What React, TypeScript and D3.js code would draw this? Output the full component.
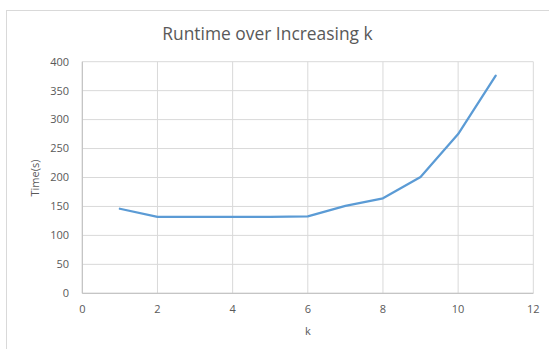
import React from "react";
import * as d3 from "d3";

const ks = [1, 2, 3, 4, 5, 6, 7, 8, 9, 10, 11];
const times = [146, 132, 132, 132, 132, 133, 151, 164, 201, 275, 376];
const xTicks = [0, 2, 4, 6, 8, 10, 12];
const yTicks = [0, 50, 100, 150, 200, 250, 300, 350, 400];
const title = "Runtime over Increasing k";
const xLabel = "k";
const yLabel = "Time(s)";

export default function App() {
  const W = 549, H = 349;
  const x = d3.scaleLinear().domain([0, 12]).range([82.3, 533.3]);
  const y = d3.scaleLinear().domain([0, 400]).range([293.3, 61.7]);
  const line = d3.line<number>().x((_, i) => x(ks[i])).y((d) => y(d));
  const font = "'Open Sans', sans-serif";
  const txt = "#595959";
  return (
    <svg width={W} height={H} style={{ position: "absolute", left: 0, top: 0 }}>
      <rect x={0} y={0} width={W} height={H} fill="#fff" />
      <rect x={6.5} y={10.5} width={W} height={H} fill="#fff" stroke="#d9d9d9" strokeWidth={1} />
      <text x={267.5} y={40} textAnchor="middle" fontFamily={font} fontSize={17.4} fill={txt}>{title}</text>
      {yTicks.map((t) => (
        <line key={"gy" + t} x1={x(0)} x2={x(12)} y1={y(t)} y2={y(t)} stroke="#d9d9d9" strokeWidth={1} />
      ))}
      {xTicks.map((t) => (
        <line key={"gx" + t} x1={x(t)} x2={x(t)} y1={y(0)} y2={y(400)} stroke="#d9d9d9" strokeWidth={1} />
      ))}
      <line x1={x(0)} x2={x(12)} y1={y(0)} y2={y(0)} stroke="#bfbfbf" strokeWidth={1} />
      <line x1={x(0)} x2={x(0)} y1={y(0)} y2={y(400)} stroke="#bfbfbf" strokeWidth={1} />
      {yTicks.map((t) => (
        <text key={"ly" + t} x={69} y={y(t)} dy="0.35em" textAnchor="end" fontFamily={font} fontSize={11} fill={txt}>{t}</text>
      ))}
      {xTicks.map((t) => (
        <text key={"lx" + t} x={x(t)} y={309} dy="0.35em" textAnchor="middle" fontFamily={font} fontSize={11} fill={txt}>{t}</text>
      ))}
      <text x={308} y={331} dy="0.35em" textAnchor="middle" fontFamily={font} fontSize={11} fill={txt}>{xLabel}</text>
      <text transform={`translate(35,178) rotate(-90)`} dy="0.35em" textAnchor="middle" fontFamily={font} fontSize={11} fill={txt}>{yLabel}</text>
      <path d={line(times) || ""} fill="none" stroke="#5b9bd5" strokeWidth={2.25} strokeLinejoin="round" strokeLinecap="round" />
    </svg>
  );
}
